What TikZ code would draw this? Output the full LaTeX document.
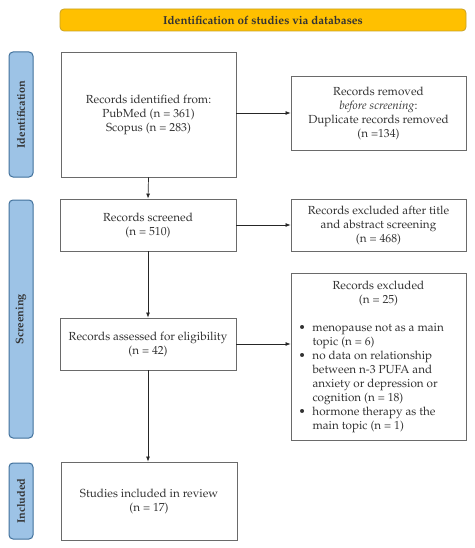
\documentclass[tikz,border=0pt]{standalone}
\usepackage[T1]{fontenc}
\usepackage{mathpazo}
\usetikzlibrary{arrows.meta}
\definecolor{boxgray}{HTML}{6A6A6A}
\definecolor{txtgray}{HTML}{333333}
\definecolor{hdyellow}{HTML}{FFC000}
\definecolor{hdborder}{HTML}{C9A227}
\definecolor{sideblue}{HTML}{9DC3E6}
\definecolor{sideborder}{HTML}{41719C}
\begin{document}
\begin{tikzpicture}[x=1pt,y=-1pt,
  box/.style={draw=boxgray, line width=0.9pt, fill=white, align=center, inner sep=2pt,
    text=txtgray, font=\fontsize{11.7}{14}\selectfont},
  side/.style={draw=sideborder, fill=sideblue, rounded corners=4pt, line width=1pt,
    minimum height=24pt, inner sep=0pt, rotate=90, text=txtgray, font=\bfseries\fontsize{11}{13}\selectfont},
  arr/.style={-{Latex[length=5pt,width=4pt]}, line width=0.7pt, draw=black!85}]
\fill[white] (0,0) rectangle (474,548);
\useasboundingbox (0,0) rectangle (474,548);
% header
\node[fill=hdyellow, draw=hdborder, line width=0.8pt, rounded corners=4pt, minimum width=406pt,
  minimum height=22pt, inner sep=0pt, text=txtgray, font=\bfseries\fontsize{11.6}{13}\selectfont] (hdr) at (263,20)
  {Identification of studies via databases};
% side labels
\node[side, minimum width=125pt] (sid) at (21,114.5) {Identification};
\node[side, minimum width=238pt] (sscr) at (21,319) {Screening};
\node[side, minimum width=76pt] (sinc) at (21,501) {Included};
% boxes
\node[box, minimum width=175pt, minimum height=125pt] (id) at (148.5,114.5)
  {Records identified from:\\PubMed (n = 361)\\Scopus (n = 283)};
\node[box, minimum width=175pt, minimum height=74pt] (rem) at (378.5,113)
  {Records removed\\\textit{before screening}:\\Duplicate records removed\\(n =134)};
\node[box, minimum width=176pt, minimum height=52pt] (scr) at (148,225)
  {Records screened\\(n = 510)};
\node[box, minimum width=175pt, minimum height=52pt] (scrx) at (378.5,225)
  {Records excluded after title\\and abstract screening\\(n = 468)};
\node[box, minimum width=176pt, minimum height=52pt] (elig) at (148,344)
  {Records assessed for eligibility\\(n = 42)};
\node[box, minimum width=175pt, minimum height=167pt] (excl) at (378.5,356.5)
  {\begin{minipage}{160pt}\fontsize{11.7}{14}\selectfont
   \centering Records excluded\\(n = 25)\\[14pt]
   \raggedright
   \makebox[14pt][l]{\textbullet}menopause not as a main\\
   \hspace*{14pt}topic (n = 6)\\
   \makebox[14pt][l]{\textbullet}no data on relationship\\
   \hspace*{14pt}between n-3 PUFA and\\
   \hspace*{14pt}anxiety or depression or\\
   \hspace*{14pt}cognition (n = 18)\\
   \makebox[14pt][l]{\textbullet}hormone therapy as the\\
   \hspace*{14pt}main topic (n = 1)
   \end{minipage}};
\node[box, minimum width=176pt, minimum height=78pt] (inc) at (149,501)
  {Studies included in review\\(n = 17)};
% connectors
\draw[arr] (rem.west -| id.east) -- (rem.west);
\draw[arr] (id.south) -- (scr.north);
\draw[arr] (scr.east) -- (scrx.west);
\draw[arr] (scr.south) -- (elig.north);
\draw[arr] (elig.east) -- (excl.west |- elig.east);
\draw[arr] (elig.south) -- (inc.north -| elig.south);
\end{tikzpicture}
\end{document}
